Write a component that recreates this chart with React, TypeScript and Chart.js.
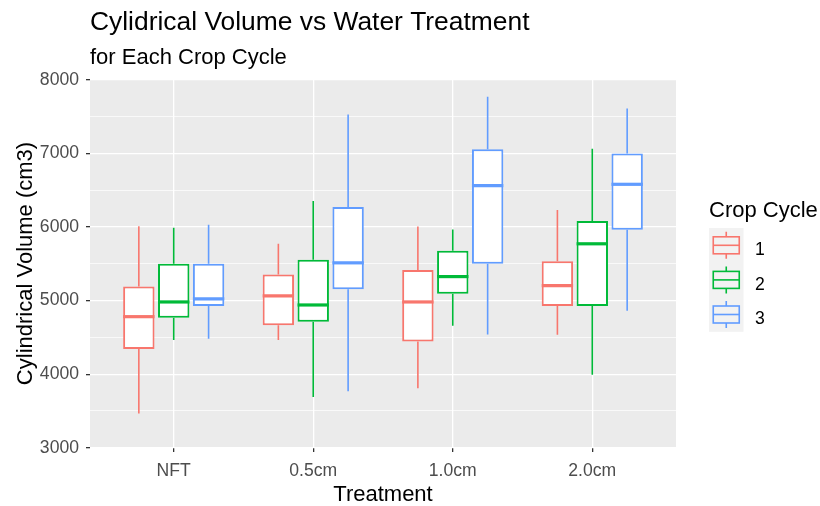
import React, { useEffect, useRef } from "react";
import { Chart, registerables } from "chart.js";

Chart.register(...registerables);

const treatments = ["NFT", "0.5cm", "1.0cm", "2.0cm"];
const cycles = ["1", "2", "3"];
const colors = ["#F8766D", "#00BA38", "#619CFF"];

// Crop cycle 1 (per treatment)
const low1 = [3464, 4464, 3809, 4536];
const q1c1 = [4341, 4664, 4445, 4927];
const med1 = [4782, 5064, 4982, 5205];
const q3c1 = [5191, 5355, 5418, 5536];
const high1 = [6013, 5773, 6009, 6232];

// Crop cycle 2
const low2 = [4464, 3691, 4659, 3991];
const q1c2 = [4768, 4714, 5095, 4927];
const med2 = [4982, 4941, 5327, 5773];
const q3c2 = [5500, 5555, 5677, 6082];
const high2 = [5991, 6355, 5968, 7064];

// Crop cycle 3
const low3 = [4482, 3768, 4541, 4864];
const q1c3 = [4927, 5155, 5500, 5964];
const med3 = [5023, 5514, 6564, 6582];
const q3c3 = [5500, 6273, 7059, 7000];
const high3 = [6032, 7532, 7773, 7614];

const majorTicks = [3000, 4000, 5000, 6000, 7000, 8000];
const minorTicks = [3500, 4500, 5500, 6500, 7500];
const xPositions = [0, 1, 2, 3];

const titleText = "Cylidrical Volume vs Water Treatment";
const subtitleText = "for Each Crop Cycle";
const xTitle = "Treatment";
const yTitle = "Cylindrical Volume (cm3)";
const legendTitle = "Crop Cycle";

const FONT = "'Liberation Sans', Arial, sans-serif";

const stats = [
  { low: low1, q1: q1c1, med: med1, q3: q3c1, high: high1 },
  { low: low2, q1: q1c2, med: med2, q3: q3c2, high: high2 },
  { low: low3, q1: q1c3, med: med3, q3: q3c3, high: high3 },
];

const boxPlugin = {
  id: "boxExtras",
  beforeDraw(chart: any) {
    const { ctx, chartArea: a } = chart;
    ctx.save();
    ctx.fillStyle = "#FFFFFF";
    ctx.fillRect(0, 0, chart.width, chart.height);
    ctx.fillStyle = "#EBEBEB";
    ctx.fillRect(a.left, a.top, a.right - a.left, a.bottom - a.top);
    ctx.restore();
  },
  afterDatasetsDraw(chart: any) {
    const { ctx } = chart;
    const ys = chart.scales.y;
    ctx.save();
    stats.forEach((s, d) => {
      const meta = chart.getDatasetMeta(d);
      meta.data.forEach((el: any, i: number) => {
        const x = el.x;
        const w = el.width;
        ctx.strokeStyle = colors[d];
        ctx.lineWidth = 1.6;
        ctx.beginPath();
        ctx.moveTo(x, ys.getPixelForValue(s.high[i]));
        ctx.lineTo(x, ys.getPixelForValue(s.q3[i]));
        ctx.moveTo(x, ys.getPixelForValue(s.q1[i]));
        ctx.lineTo(x, ys.getPixelForValue(s.low[i]));
        ctx.stroke();
        ctx.lineWidth = 3.2;
        ctx.beginPath();
        const my = ys.getPixelForValue(s.med[i]);
        ctx.moveTo(x - w / 2, my);
        ctx.lineTo(x + w / 2, my);
        ctx.stroke();
      });
    });
    ctx.restore();
  },
  afterDraw(chart: any) {
    const { ctx, chartArea: a } = chart;
    ctx.save();
    ctx.fillStyle = "#000000";
    ctx.textAlign = "left";
    ctx.textBaseline = "alphabetic";
    ctx.font = `26.4px ${FONT}`;
    ctx.fillText(titleText, a.left, 29.5);
    ctx.font = `22px ${FONT}`;
    ctx.fillText(subtitleText, a.left, 64);

    // axis titles
    ctx.textAlign = "center";
    ctx.fillText(xTitle, (a.left + a.right) / 2, 500.5);
    ctx.save();
    ctx.translate(32, (a.top + a.bottom) / 2);
    ctx.rotate(-Math.PI / 2);
    ctx.fillText(yTitle, 0, 0);
    ctx.restore();

    // legend
    ctx.textAlign = "left";
    ctx.fillText(legendTitle, 709, 216.5);
    const keyX = 709;
    const keyW = 34.5;
    const keyTop = 228;
    const keyH = 34.6;
    ctx.fillStyle = "#F2F2F2";
    ctx.fillRect(keyX, keyTop, keyW, keyH * cycles.length);
    cycles.forEach((c, k) => {
      const cy = keyTop + keyH * k + keyH / 2;
      const cx = keyX + keyW / 2;
      ctx.strokeStyle = colors[k];
      ctx.lineWidth = 1.6;
      ctx.beginPath();
      ctx.moveTo(cx, cy - 13.5);
      ctx.lineTo(cx, cy - 8.5);
      ctx.moveTo(cx, cy + 8.5);
      ctx.lineTo(cx, cy + 13.5);
      ctx.stroke();
      ctx.strokeRect(cx - 13, cy - 8.5, 26, 17);
      ctx.beginPath();
      ctx.moveTo(cx - 13, cy);
      ctx.lineTo(cx + 13, cy);
      ctx.stroke();
      ctx.fillStyle = "#000000";
      ctx.font = `17.6px ${FONT}`;
      ctx.textBaseline = "middle";
      ctx.fillText(c, 755, cy + 5);
      ctx.textBaseline = "alphabetic";
    });
    ctx.restore();
  },
};

export default function App() {
  const ref = useRef<HTMLCanvasElement | null>(null);
  useEffect(() => {
    document.body.style.margin = "0";
    const canvas = ref.current;
    if (!canvas) return;
    const datasets = stats.map((s, d) => ({
      label: cycles[d],
      data: xPositions.map((x, i) => ({ x, y: [s.q1[i], s.q3[i]] })),
      backgroundColor: "#FFFFFF",
      borderColor: colors[d],
      borderWidth: 2,
      borderSkipped: false,
      categoryPercentage: 0.75,
      barPercentage: 0.9,
    }));
    const chart = new Chart(canvas, {
      type: "bar",
      data: { datasets: datasets as any },
      plugins: [boxPlugin],
      options: {
        animation: false,
        responsive: false,
        devicePixelRatio: 1,
        layout: { padding: { top: 79, right: 144, left: 0, bottom: 0 } },
        plugins: {
          legend: { display: false },
          tooltip: { enabled: false },
          title: { display: false },
        },
        scales: {
          x: {
            type: "linear",
            min: -0.6,
            max: 3.6,
            offset: false,
            afterBuildTicks: (scale: any) => {
              scale.ticks = xPositions.map((v) => ({ value: v }));
            },
            afterFit: (scale: any) => {
              scale.height = 58;
            },
            ticks: {
              color: "#4D4D4D",
              font: { family: FONT, size: 17.6 },
              padding: 9,
              maxRotation: 0,
              autoSkip: false,
              callback: (v: any) => treatments[Number(v)] ?? "",
            },
            grid: {
              offset: false,
              color: "#FFFFFF",
              lineWidth: 1.3,
              tickColor: "#333333",
              tickWidth: 1.3,
              tickLength: 4,
            },
            border: { display: false },
          },
          y: {
            type: "linear",
            min: 2996,
            max: 8014,
            afterBuildTicks: (scale: any) => {
              scale.ticks = [...majorTicks, ...minorTicks]
                .sort((p, q) => p - q)
                .map((v) => ({ value: v }));
            },
            afterFit: (scale: any) => {
              scale.width = 90;
            },
            ticks: {
              color: "#4D4D4D",
              font: { family: FONT, size: 17.6 },
              padding: 7,
              autoSkip: false,
              callback: (v: any) => (majorTicks.includes(Number(v)) ? String(v) : ""),
            },
            grid: {
              color: "#FFFFFF",
              lineWidth: (c: any) => (majorTicks.includes(c.tick?.value) ? 1.3 : 0.7),
              tickColor: (c: any) => (majorTicks.includes(c.tick?.value) ? "#333333" : "rgba(0,0,0,0)"),
              tickWidth: 1.3,
              tickLength: 4,
            },
            border: { display: false },
          },
        },
      } as any,
    });
    return () => chart.destroy();
  }, []);
  return (
    <div style={{ width: 820, height: 506 }}>
      <canvas ref={ref} width={820} height={506} />
    </div>
  );
}
